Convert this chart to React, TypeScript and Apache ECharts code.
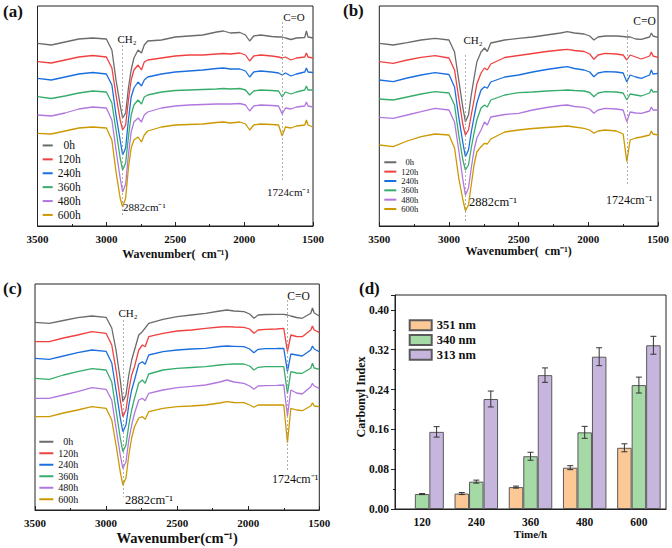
import React, { useEffect, useRef } from "react";
import * as echarts from "echarts";

// ---------- spectra (panels a, b, c) ----------
const WAVENUMBERS = [3500, 3400, 3300, 3200, 3100, 3000, 2960, 2930, 2900, 2882, 2860, 2840, 2820, 2800, 2770, 2745, 2725, 2700, 2600, 2500, 2400, 2300, 2200, 2150, 2100, 2030, 1990, 1960, 1930, 1880, 1800, 1750, 1724, 1700, 1660, 1620, 1560, 1548, 1536, 1500];
const TIMES = ["0h", "120h", "240h", "360h", "480h", "600h"];

// offset absorbance-like readings (a.u., larger = lower on the plot)
const A_0H = [43.3, 45, 42, 39, 38, 39, 50, 80, 105, 118, 113, 88, 70, 58, 50, 53, 45, 41, 40, 37, 36, 35, 32, 31, 33, 32.5, 35, 41, 36, 35, 36.5, 37, 37, 38, 39.5, 38, 37.5, 31, 37, 38];
const A_120H = [61.7, 63, 60, 57, 55.5, 57, 68, 95, 120, 130, 125, 100, 80, 70, 65, 70, 62, 60, 58, 56, 55, 55, 54, 53.5, 54, 53, 55, 61, 56, 55, 56, 57, 58, 57, 60, 58, 57, 53, 57, 58];
const A_240H = [78.3, 80, 77, 74, 72.5, 74, 85, 115, 140, 155, 148, 120, 97, 88, 82, 86, 80, 77, 74, 72, 71, 70, 68.5, 68, 69, 69, 71, 77, 72, 71, 72, 73, 75, 73, 76, 74, 72, 68, 72, 72.5];
const A_360H = [96.7, 98.5, 96, 93, 91, 92, 103, 130, 158, 170, 163, 137, 115, 105, 100, 104, 97, 95, 92, 90.5, 90, 89.5, 89, 88.5, 89, 88.5, 90, 95, 91, 90, 90.5, 91, 97, 92, 94, 92, 90, 86, 90, 90];
const A_480H = [115, 116, 113, 109, 107, 108, 120, 150, 178, 192, 184, 155, 132, 122, 118, 122, 115, 112, 108, 106, 105, 104.5, 104, 104, 104, 103.5, 105, 111, 106, 105, 105.5, 106, 114, 108, 109, 107, 106, 102, 106, 107];
const A_600H = [133.3, 134, 131, 128, 127, 128, 140, 172, 198, 207, 198, 168, 148, 140, 137, 142, 135, 131, 127, 125, 124.5, 124, 122.5, 122, 123, 122, 124, 130, 125, 124, 124.5, 125, 136, 127, 128, 126, 125, 120, 125, 127];

const B_0H = [43.3, 45, 42.7, 40, 38.3, 40, 52, 80, 108, 121.7, 115, 95, 78, 62, 52, 48, 51.5, 43, 40, 38.3, 37, 35, 33, 31.7, 33, 34, 36, 40, 37, 36, 36, 36.5, 37, 37, 39, 39.3, 37, 33, 36, 37.3];
const B_120H = [61.7, 63.3, 60, 57.3, 55.7, 58, 70, 98, 125, 135, 130, 115, 100, 84, 73, 68, 70, 64, 57.5, 55.5, 53.5, 51.5, 50, 49.3, 50.5, 51.5, 54, 59.3, 55, 53.3, 54, 55, 60, 55, 57, 59, 56, 52, 56, 57.3];
const B_240H = [80, 81.7, 78, 75, 72.7, 74.5, 87, 117, 143, 156.7, 150, 132, 117, 103, 90, 86.7, 88.3, 82, 77, 75, 72, 69.5, 67.5, 66.7, 68.5, 70, 72, 76.7, 73, 71.7, 72, 73, 81.7, 75, 77, 78.3, 75, 70, 74, 73.3];
const B_360H = [99, 100, 97, 94, 91.7, 93, 105, 135, 160, 170, 165, 148, 133, 120, 108, 105, 107, 100, 95, 92.7, 92, 91, 90.3, 90, 90.5, 91, 92.5, 96.7, 93, 91.7, 92, 93, 100, 94, 95, 96, 93, 89, 92, 91.7];
const B_480H = [117.3, 118.3, 115, 111.7, 108.3, 110, 122, 150, 180, 195, 188, 168, 150, 138, 130, 122, 125, 117, 114.5, 113.3, 110, 107.5, 105.5, 105, 106.5, 107.3, 109, 113.3, 110, 108.3, 109, 110, 121.7, 112, 113, 113.3, 111, 107, 110, 110];
const B_600H = [145, 146.7, 141, 136.7, 134, 135, 148, 178, 200, 210.7, 205, 185, 165, 152, 146.7, 143.3, 144, 139, 132, 130, 128.5, 127.5, 126.5, 126, 127, 128.3, 130, 133.3, 131, 130, 131, 134, 161.7, 140, 138, 137, 135, 131, 134, 135];

const C_0H = [322.3, 323.3, 320.5, 317.7, 316, 317.3, 328, 350, 380, 401.7, 395, 375, 360, 350, 335, 331.7, 328, 323.3, 319.3, 316.7, 315, 313.3, 311, 310, 311, 311.7, 314, 318.3, 315, 314.5, 314.3, 314.3, 315, 316, 317.5, 318.3, 313.3, 308, 313, 316];
const C_120H = [341.7, 341.7, 338, 335, 331.7, 333.3, 345, 370, 400, 416.7, 410, 390, 375, 366.7, 350, 345, 346.7, 336.7, 333.3, 331, 330, 328.3, 327, 326.7, 327, 327.3, 329, 333.3, 330, 329.3, 329, 328.3, 351.7, 335, 336.5, 336.7, 330, 326, 330, 332.3];
const C_240H = [358.3, 359.3, 356, 352.7, 350, 351.3, 363, 390, 418, 431.7, 425, 405, 390, 380, 364, 361.7, 364.3, 355, 351.7, 350, 349, 348.3, 346.5, 346, 346.3, 346.7, 349, 352.7, 349.3, 348.7, 348.5, 348.3, 371.7, 354, 355, 356, 350, 346, 349, 351.7];
const C_360H = [378.3, 379.3, 375, 371.7, 368.7, 370, 382, 410, 438, 451.7, 445, 425, 410, 398.3, 383, 380, 383.3, 374, 370, 368.3, 367.5, 366.7, 365, 364.3, 364, 364, 366, 370, 367.3, 366.7, 366.7, 366.7, 393.3, 371.7, 373, 373.3, 368.3, 363.3, 368, 369.3];
const C_480H = [398.3, 398.3, 395, 391.7, 387.7, 389.3, 400, 428, 455, 468.3, 462, 440, 425, 413.3, 400, 398.3, 400.7, 393.3, 390, 387.7, 386.3, 385, 382, 380, 382, 383.3, 386, 389.3, 386, 385.7, 385.3, 385, 416, 390, 393, 394, 386.7, 383.3, 386, 388.3];
const C_600H = [416.7, 416.7, 413, 410, 406.7, 408.3, 420, 445, 472, 485, 478, 455, 438, 426.7, 418, 416.7, 419.3, 411.7, 408.3, 406.7, 406, 405, 403, 401.7, 402.5, 402.7, 405, 407.3, 405, 405, 405, 405, 442.7, 408.3, 410, 410.7, 406, 402.7, 406, 406.7];

// ---------- carbonyl index (panel d) ----------
const TIME_CATEGORIES = ["120", "240", "360", "480", "600"];
const BAR_NAMES = ["351 nm", "340 nm", "313 nm"];
const CI_351 = [null, 0.031, 0.044, 0.083, 0.123];
const CI_351_ERR = [null, 0.002, 0.002, 0.004, 0.008];
const CI_340 = [0.03, 0.055, 0.106, 0.154, 0.249];
const CI_340_ERR = [0.001, 0.003, 0.008, 0.012, 0.016];
const CI_313 = [0.155, 0.221, 0.269, 0.306, 0.329];
const CI_313_ERR = [0.0105, 0.016, 0.0145, 0.018, 0.018];
const Y_TICKS_D = [0, 0.08, 0.16, 0.24, 0.32, 0.4];

const LINE_COLORS = ["#6b6b6b", "#f14040", "#1a6fdf", "#37ad6b", "#b177de", "#cc9900"];
const BAR_COLORS = ["#fbc896", "#a5d9a5", "#c6b6de"];
const SERIF = "'Liberation Serif', 'Times New Roman', serif";

export default function App() {
  const ref = useRef<HTMLDivElement>(null);

  useEffect(() => {
    if (!ref.current) return;
    const chart = echarts.init(ref.current, undefined, { renderer: "svg" });

    const panels = [
      { curves: [A_0H, A_120H, A_240H, A_360H, A_480H, A_600H], grid: { left: 37.5, top: 6, width: 275.5, height: 220 }, yMin: 6, yMax: 226, nameGap: 22, nameSize: 12, xName: "Wavenumber(  cm⁻¹)",
        ch2Line: [45, 215], coLine: [22, 182] },
      { curves: [B_0H, B_120H, B_240H, B_360H, B_480H, B_600H], grid: { left: 379.3, top: 6, width: 280, height: 220 }, yMin: 6, yMax: 226, nameGap: 15, nameSize: 12, xName: "Wavenumber(  cm⁻¹)",
        ch2Line: [55, 222], coLine: [30, 185] },
      { curves: [C_0H, C_120H, C_240H, C_360H, C_480H, C_600H], grid: { left: 35, top: 284, width: 284.3, height: 226 }, yMin: 284, yMax: 510, nameGap: 20, nameSize: 14.5, xName: "Wavenumber(cm⁻¹)",
        ch2Line: [320, 497], coLine: [300, 470] },
    ];

    const grids: any[] = [];
    const xAxes: any[] = [];
    const yAxes: any[] = [];
    const series: any[] = [];

    panels.forEach((p, pi) => {
      grids.push({ ...p.grid, show: true, borderColor: "#222", borderWidth: 1, backgroundColor: "transparent" });
      xAxes.push({
        type: "value", gridIndex: pi, min: 1500, max: 3500, interval: 500, inverse: true,
        name: p.xName, nameLocation: "middle", nameGap: p.nameGap,
        nameTextStyle: { fontFamily: SERIF, fontWeight: "bold", fontSize: p.nameSize, color: "#111" },
        axisLine: { show: true, lineStyle: { color: "#222", width: 1 } },
        axisTick: { show: true, inside: true, length: 4, lineStyle: { color: "#222" } },
        minorTick: { show: true, splitNumber: 2, length: 2, lineStyle: { color: "#222" } },
        splitLine: { show: false },
        axisLabel: { fontFamily: SERIF, fontWeight: "bold", fontSize: 11, color: "#111", margin: 7, formatter: (v: number) => String(v) },
      });
      yAxes.push({ type: "value", gridIndex: pi, min: p.yMin, max: p.yMax, inverse: true, show: false, splitLine: { show: false } });
      p.curves.forEach((arr, ci) => {
        const s: any = {
          type: "line", name: TIMES[ci], xAxisIndex: pi, yAxisIndex: pi,
          data: WAVENUMBERS.map((w, k) => [w, arr[k]]),
          showSymbol: false, symbol: "none",
          lineStyle: { width: 1.3, color: LINE_COLORS[ci] },
          itemStyle: { color: LINE_COLORS[ci] },
          z: 2,
        };
        if (ci === 0) {
          s.markLine = {
            silent: true, symbol: "none", label: { show: false },
            lineStyle: { type: [2, 2], color: "#9a9a9a", width: 0.8 },
            data: [
              [{ coord: [2882, p.ch2Line[0]] }, { coord: [2882, p.ch2Line[1]] }],
              [{ coord: [1724, p.coLine[0]] }, { coord: [1724, p.coLine[1]] }],
            ],
          };
        }
        series.push(s);
      });
    });

    // panel d
    const BAR_W = 14.5;
    grids.push({ left: 395, top: 295, width: 271, height: 214, show: true, borderColor: "#222", borderWidth: 1, backgroundColor: "transparent" });
    xAxes.push({
      type: "category", gridIndex: 3, data: TIME_CATEGORIES,
      axisLine: { lineStyle: { color: "#222" } },
      axisTick: { alignWithLabel: true, length: 4, lineStyle: { color: "#222" } },
      axisLabel: { fontFamily: SERIF, fontWeight: "bold", fontSize: 11.5, color: "#111", margin: 7 },
      name: "Time/h", nameLocation: "middle", nameGap: 17,
      nameTextStyle: { fontFamily: SERIF, fontWeight: "bold", fontSize: 11, color: "#111" },
    });
    yAxes.push({
      type: "value", gridIndex: 3, min: 0, max: 0.43, interval: 0.08,
      axisLine: { show: true, lineStyle: { color: "#222" } },
      axisTick: { show: true, length: 4, lineStyle: { color: "#222" } },
      minorTick: { show: true, splitNumber: 2, length: 2, lineStyle: { color: "#222" } },
      splitLine: { show: false },
      axisLabel: {
        fontFamily: SERIF, fontWeight: "bold", fontSize: 11.5, color: "#111", margin: 6,
        formatter: (v: number) => (Y_TICKS_D.some((t) => Math.abs(t - v) < 1e-6) ? v.toFixed(2) : ""),
      },
    });

    const barSets = [CI_351, CI_340, CI_313];
    const errSets = [CI_351_ERR, CI_340_ERR, CI_313_ERR];
    barSets.forEach((vals, bi) => {
      series.push({
        type: "bar", name: BAR_NAMES[bi], xAxisIndex: 3, yAxisIndex: 3,
        data: vals, barWidth: BAR_W, barGap: "0%",
        itemStyle: { color: BAR_COLORS[bi], borderColor: "#5a5a5a", borderWidth: 1 },
      });
    });
    const errData: any[] = [];
    barSets.forEach((vals, bi) => {
      vals.forEach((v, i) => {
        if (v == null) return;
        errData.push([i, v, errSets[bi][i], bi]);
      });
    });
    series.push({
      type: "custom", xAxisIndex: 3, yAxisIndex: 3, data: errData, z: 5, silent: true,
      renderItem: (params: any, api: any) => {
        const i = api.value(0), v = api.value(1), e = api.value(2), k = api.value(3);
        const c = api.coord([i, v]);
        const x = c[0] + (k - 1) * BAR_W;
        const yt = api.coord([i, v + e])[1];
        const yb = api.coord([i, v - e])[1];
        const cap = 3;
        const st = { stroke: "#333", lineWidth: 1 };
        return {
          type: "group",
          children: [
            { type: "line", shape: { x1: x, y1: yt, x2: x, y2: yb }, style: st },
            { type: "line", shape: { x1: x - cap, y1: yt, x2: x + cap, y2: yt }, style: st },
            { type: "line", shape: { x1: x - cap, y1: yb, x2: x + cap, y2: yb }, style: st },
          ],
        };
      },
    });

    const legendBase = { orient: "vertical", icon: "rect", itemHeight: 2, itemGap: 0, selectedMode: false, padding: 0 };
    const legends = [
      { ...legendBase, left: 42.7, top: 138.5, itemWidth: 10, data: TIMES, formatter: (n: string) => (n === "0h" ? "\u2007" + n : n),
        textStyle: { fontFamily: SERIF, fontSize: 11.5, color: "#111", lineHeight: 13.9, padding: [0, 0, 0, 0] } },
      { ...legendBase, left: 384.3, top: 157.6, itemWidth: 12, data: TIMES, formatter: (n: string) => (n === "0h" ? "\u2007" + n : n),
        textStyle: { fontFamily: SERIF, fontSize: 8.5, color: "#111", lineHeight: 9.35 } },
      { ...legendBase, left: 39.3, top: 436, itemWidth: 14, data: TIMES, formatter: (n: string) => (n === "0h" ? "\u2007" + n : n),
        textStyle: { fontFamily: SERIF, fontSize: 10, color: "#111", lineHeight: 11.5 } },
      { orient: "vertical", left: 408.7, top: 318, itemWidth: 22, itemHeight: 10, itemGap: 0, selectedMode: false, padding: 0, icon: "rect",
        data: BAR_NAMES, textStyle: { fontFamily: SERIF, fontWeight: "bold", fontSize: 12.5, color: "#111", lineHeight: 14.7 } },
    ];

    const txt = (text: string, x: number, y: number, size: number, align = "left", extra: any = {}) => ({
      type: "text", x, y, silent: true,
      style: { text, fill: "#111", font: `${extra.weight || "normal"} ${size}px ${SERIF}`, align, verticalAlign: "middle" },
      ...(extra.rotation ? { rotation: extra.rotation } : {}),
    });

    const graphic = [
      txt("(a)", 3, 11, 17, "left", { weight: "bold" }),
      txt("(b)", 343, 10, 17, "left", { weight: "bold" }),
      txt("(c)", 3, 288.5, 17, "left", { weight: "bold" }),
      txt("(d)", 359, 288.5, 17, "left", { weight: "bold" }),
      txt("CH₂", 127, 39, 11, "center"),
      txt("2882cm⁻¹", 123, 207, 11),
      txt("C=O", 294, 17, 11, "center"),
      txt("1724cm⁻¹", 267, 192, 11),
      txt("CH₂", 473, 40, 11, "center"),
      txt("2882cm⁻¹", 469, 202, 12.5),
      txt("C=O", 644.5, 21, 11.5, "center"),
      txt("1724cm⁻¹", 606, 200, 12),
      txt("CH₂", 128, 313, 11, "center"),
      txt("2882cm⁻¹", 125, 500, 12.5),
      txt("C=O", 298.5, 296, 11.5, "center"),
      txt("1724cm⁻¹", 272, 479, 12),
      txt("Carbonyl Index", 361, 397, 12, "center", { weight: "bold", rotation: Math.PI / 2 }),
    ];

    chart.setOption({
      animation: false,
      backgroundColor: "#fff",
      grid: grids,
      xAxis: xAxes,
      yAxis: yAxes,
      legend: legends,
      series,
      graphic,
    });
    return () => chart.dispose();
  }, []);

  return <div ref={ref} style={{ position: "fixed", left: 0, top: 0, width: 672, height: 548, background: "#fff" }} />;
}
